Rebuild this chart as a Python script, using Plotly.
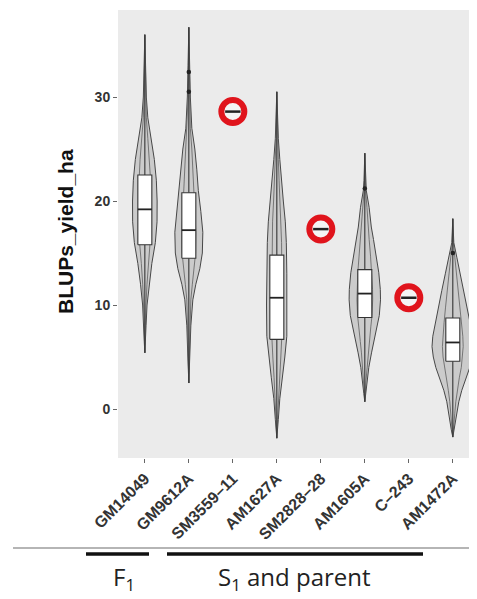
import plotly.graph_objects as go

# ---------------- data ----------------
categories = ["GM14049", "GM9612A", "SM3559\u201311", "AM1627A",
              "SM2828\u201328", "AM1605A", "C\u2013243", "AM1472A"]

# violin profiles: value levels and (relative) density
gm14049_levels = [36.0, 33, 30, 28, 26, 24, 22, 20, 18, 16, 14, 12, 10, 8, 6.5, 5.4]
gm14049_dens   = [0, 0.8, 1.5, 3, 6, 9.5, 11.5, 12.3, 12.2, 10.5, 7, 4.3, 2.2, 1.2, 0.6, 0]

gm9612a_levels = [36.7, 33, 30, 27, 25, 23, 21, 19, 17, 15, 13.5, 12, 10.5, 8, 5, 2.5]
gm9612a_dens   = [0, 0.8, 1.5, 3, 6, 8, 9.5, 12, 14, 13.5, 11, 7, 4, 2, 1, 0]

am1627a_levels = [30.5, 28, 26, 24, 22, 20, 18, 16, 13, 10, 7, 5, 3, 1, -1, -2.8]
am1627a_dens   = [0, 0.8, 1.5, 3, 4.5, 6.5, 8.5, 9.5, 10, 10.3, 10, 8, 5.5, 3, 1.5, 0]

am1605a_levels = [24.6, 22, 21, 19.4, 17.5, 16.3, 14.7, 13.1, 11.5, 10.5, 9, 7.9, 6.5, 5.4, 4, 2.8, 1.5, 0.7]
am1605a_dens   = [0, 0.8, 1.5, 4.3, 6.5, 8.7, 11.5, 14, 15.5, 15.7, 14.5, 12, 9, 6.7, 4, 2.5, 1, 0]

am1472a_levels = [18.3, 16, 14.6, 13, 11.4, 9.8, 8.3, 7, 6, 5, 4, 3, 1.8, 0.7, -0.4, -2, -2.7]
am1472a_dens   = [0, 1, 4, 7.5, 11, 14.5, 17.5, 20, 20.8, 19.5, 17, 13, 9, 6, 4, 1.5, 0]

violin_cats   = ["GM14049", "GM9612A", "AM1627A", "AM1605A", "AM1472A"]
violin_levels = [gm14049_levels, gm9612a_levels, am1627a_levels, am1605a_levels, am1472a_levels]
violin_dens   = [gm14049_dens, gm9612a_dens, am1627a_dens, am1605a_dens, am1472a_dens]

# boxplot statistics
box_q1     = [15.8, 14.5, 6.7, 8.8, 4.6]
box_median = [19.2, 17.2, 10.7, 11.1, 6.4]
box_q3     = [22.5, 20.8, 14.8, 13.4, 8.75]
box_low    = [5.4, 2.5, -2.8, 0.7, -2.7]
box_high   = [36.0, 36.7, 30.5, 24.6, 18.3]

# outlier points
outlier_cats   = ["GM9612A", "GM9612A", "AM1605A", "AM1472A"]
outlier_values = [32.4, 30.5, 21.2, 15.0]

# single-observation entries (highlighted)
single_cats   = ["SM3559\u201311", "SM2828\u201328", "C\u2013243"]
single_values = [28.6, 17.3, 10.7]

# ---------------- figure ----------------
OFF = 8                      # page body margin of the browser
W, H = 477 - OFF, 599 - OFF
ML, MR, MT, MB = 118 - OFF, 0, 10 - OFF, 141
XR = [-0.61, 7.55]
px_per_cat = (W - ML - MR) / (XR[1] - XR[0])
dens_scale = 1.0 / px_per_cat  # density units -> category units
box_hw = 7.0 / px_per_cat

pos = {c: i for i, c in enumerate(categories)}
fig = go.Figure()

for cat, lv, dn in zip(violin_cats, violin_levels, violin_dens):
    xc = pos[cat]
    for frac, fill in ((1.0, True), (0.5, False)):
        xs = [xc + d * dens_scale * frac for d in dn] + [xc - d * dens_scale * frac for d in dn[::-1]]
        ys = list(lv) + list(lv[::-1])
        fig.add_trace(go.Scatter(
            x=xs, y=ys, mode="lines",
            fill="toself" if fill else None,
            fillcolor="#cbcbcb",
            line=dict(color="#474747" if fill else "#5e5e5e", width=1.0 if fill else 0.8),
            hoverinfo="skip", showlegend=False))

# whiskers (central line)
wx, wy = [], []
for cat, lo, q1, q3, hi in zip(violin_cats, box_low, box_q1, box_q3, box_high):
    xc = pos[cat]
    wx += [xc, xc, None, xc, xc, None]
    wy += [lo, q1, None, q3, hi, None]
fig.add_trace(go.Scatter(x=wx, y=wy, mode="lines", line=dict(color="#333", width=1.1),
                         hoverinfo="skip", showlegend=False))

# boxes
for cat, q1, md, q3 in zip(violin_cats, box_q1, box_median, box_q3):
    xc = pos[cat]
    fig.add_trace(go.Scatter(
        x=[xc - box_hw, xc + box_hw, xc + box_hw, xc - box_hw, xc - box_hw],
        y=[q1, q1, q3, q3, q1], mode="lines", fill="toself", fillcolor="white",
        line=dict(color="#333", width=1.1), hoverinfo="skip", showlegend=False))
    fig.add_trace(go.Scatter(
        x=[xc - box_hw, xc + box_hw], y=[md, md], mode="lines",
        line=dict(color="#222", width=1.8), hoverinfo="skip", showlegend=False))

fig.add_trace(go.Scatter(
    x=[pos[c] for c in outlier_cats], y=outlier_values, mode="markers",
    marker=dict(color="#222", size=4.5), showlegend=False, hoverinfo="skip"))

fig.add_trace(go.Scatter(
    x=[pos[c] for c in single_cats], y=single_values, mode="markers",
    marker=dict(symbol="circle", size=23, color="#f4f4f4",
                line=dict(color="#e0141c", width=6)),
    showlegend=False, hoverinfo="skip"))
fig.add_trace(go.Scatter(
    x=[pos[c] for c in single_cats], y=single_values, mode="markers",
    marker=dict(symbol="line-ew", size=11, color="#222",
                line=dict(color="#222", width=2.5)),
    showlegend=False, hoverinfo="skip"))

xtickfont = dict(family="Liberation Sans, Arial, sans-serif", size=16, color="#333", weight="bold")
ytickfont = dict(family="Liberation Sans, Arial, sans-serif", size=14, color="#333", weight="bold")

fig.update_layout(
    width=W, height=H,
    margin=dict(l=ML, r=MR, t=MT, b=MB, autoexpand=False),
    paper_bgcolor="white", plot_bgcolor="#ebebeb",
    xaxis=dict(range=XR, tickmode="array", tickvals=list(range(8)),
               ticktext=categories, tickangle=-45, tickfont=xtickfont,
               showgrid=False, zeroline=False, ticks="outside", ticklen=4,
               tickcolor="#666", tickwidth=1),
    yaxis=dict(range=[-4.71, 38.37], tickvals=[0, 10, 20, 30], tickfont=ytickfont,
               showgrid=False, zeroline=False, ticks="outside", ticklen=4,
               tickcolor="#666", tickwidth=1),
)

# helpers: reference-picture pixel -> paper coordinate
def px_x(p):
    return (p - OFF - ML) / (W - ML - MR)

def px_y(p):
    return (H - MB - (p - OFF)) / (H - MB - MT)

fig.add_annotation(text="BLUPs_yield_ha", textangle=-90, showarrow=False,
                   xref="paper", yref="paper", x=px_x(65), y=px_y(232),
                   xanchor="center", yanchor="middle",
                   font=dict(family="Liberation Sans, Arial, sans-serif", size=21, color="#111", weight="bold"))

# bottom group markers
fig.add_shape(type="line", xref="paper", yref="paper",
              x0=px_x(13), x1=px_x(477), y0=px_y(548), y1=px_y(548),
              line=dict(color="#b5b5b5", width=2))
fig.add_shape(type="line", xref="paper", yref="paper",
              x0=px_x(86), x1=px_x(149), y0=px_y(554), y1=px_y(554),
              line=dict(color="#111", width=3.5))
fig.add_shape(type="line", xref="paper", yref="paper",
              x0=px_x(167), x1=px_x(423), y0=px_y(554), y1=px_y(554),
              line=dict(color="#111", width=3.5))
grp_font = dict(family="Open Sans, Lato, sans-serif", size=24, color="#222")
fig.add_annotation(text="F<sub>1</sub>", showarrow=False, xref="paper", yref="paper",
                   x=px_x(124), y=px_y(578), xanchor="center", yanchor="middle", font=grp_font)
fig.add_annotation(text="S<sub>1</sub> and parent", showarrow=False, xref="paper", yref="paper",
                   x=px_x(294), y=px_y(578), xanchor="center", yanchor="middle", font=grp_font)

fig.write_html("out.html")
